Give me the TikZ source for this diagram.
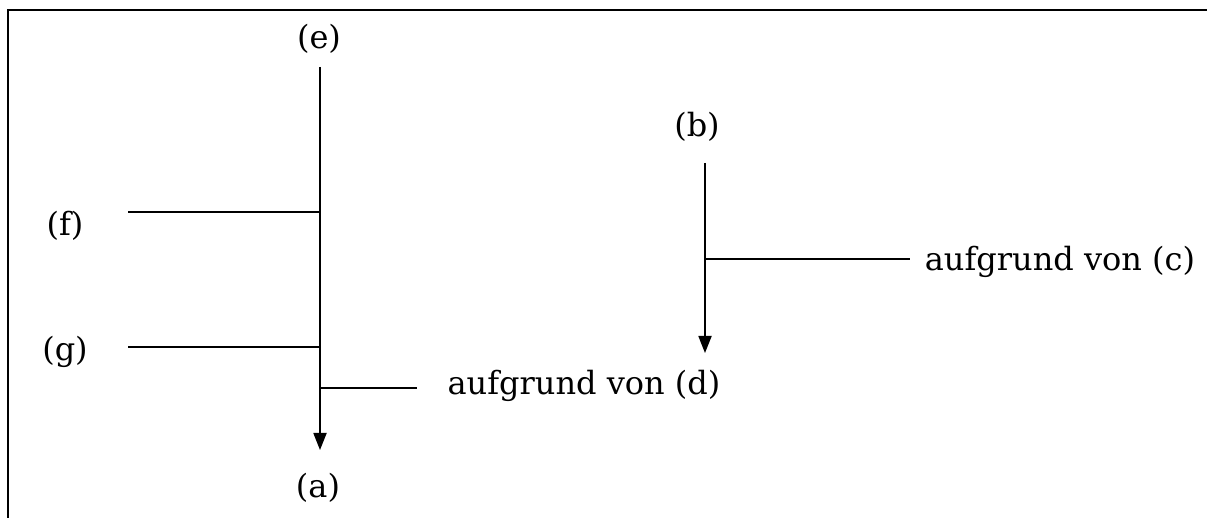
\documentclass[tikz,border=0pt]{standalone}
\usepackage{fontspec}
\setmainfont{DejaVu Serif}
\usetikzlibrary{arrows.meta}

\tikzset{
  lbl/.style={inner sep=0pt, font=\fontsize{16}{19}\selectfont},
  thin/.style={line width=0.9pt},
  arr/.style={thin, -{Triangle[length=8.5pt,width=6.5pt]}}
}

\begin{document}
\begin{tikzpicture}[x=0.5pt,y=-0.5pt]
\useasboundingbox (0,0) rectangle (1207,518);
% frame
\draw[line width=1.4pt] (8,518) -- (8,10) -- (1207,10);
% left chain
\node[lbl] (e) at (319,39) {(e)};
\node[lbl] (a) at (318,488) {(a)};
\node[lbl] (f) at (65,226) {(f)};
\node[lbl] (g) at (65,352) {(g)};
\node[lbl] (d) at (584,386) {aufgrund von (d)};
\coordinate (etop) at (320,67);
\coordinate (abot) at (320,450);
\coordinate (fl) at (128,212);
\coordinate (fr) at (320,212);
\coordinate (gl) at (128,347);
\coordinate (gr) at (320,347);
\coordinate (dl) at (320,388);
\coordinate (dr) at (417,388);
\draw[arr] (etop) -- (abot);
\draw[thin] (fl) -- (fr);
\draw[thin] (gl) -- (gr);
\draw[thin] (dl) -- (dr);
% right chain
\node[lbl] (b) at (697,127) {(b)};
\node[lbl] (c) at (1060,262) {aufgrund von (c)};
\coordinate (btop) at (705,163);
\coordinate (bbot) at (705,353);
\coordinate (cl) at (705,259);
\coordinate (cr) at (910,259);
\draw[arr] (btop) -- (bbot);
\draw[thin] (cl) -- (cr);
\end{tikzpicture}
\end{document}
